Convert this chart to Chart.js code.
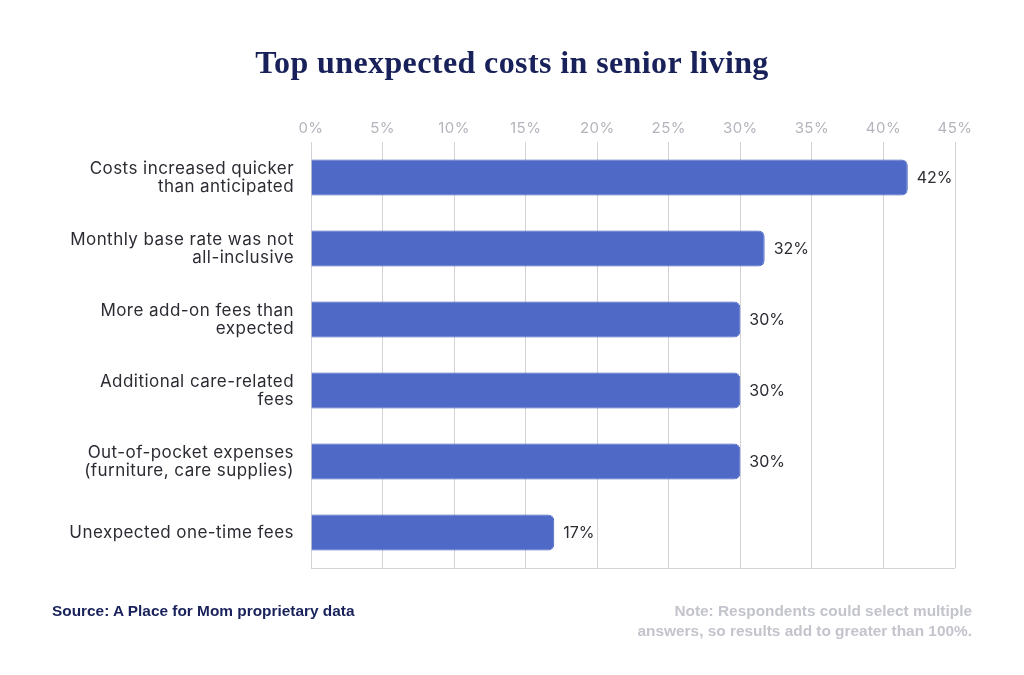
<!DOCTYPE html>
<html>
<head>
<meta charset="utf-8">
<script src="https://cdn.jsdelivr.net/npm/chart.js@4.4.1/dist/chart.umd.min.js"></script>
<style>
  html, body { margin: 0; padding: 0; background: #ffffff; }
  #wrap { position: relative; width: 1024px; height: 675px; overflow: hidden; }
  #title { position: absolute; left: 0; width: 1024px; top: 44px; text-align: center;
    font-family: "Liberation Serif", "DejaVu Serif", serif; font-weight: bold; font-size: 32px; letter-spacing: 0.4px; color: #18215a; }
  #source { position: absolute; left: 52px; top: 602px; font-family: "Liberation Sans", Arial, sans-serif;
    font-weight: bold; font-size: 15.4px; color: #18215a; }
  #note { position: absolute; right: 52px; top: 601px; text-align: right; font-family: "Liberation Sans", Arial, sans-serif;
    font-weight: bold; font-size: 15.4px; line-height: 20px; color: #c3c4cc; }
  canvas { position: absolute; left: 0; top: 0; }
</style>
</head>
<body>
<div id="wrap">
  <canvas id="c" width="1024" height="675"></canvas>
  <div id="title">Top unexpected costs in senior living</div>
  <div id="source">Source: A Place for Mom proprietary data</div>
  <div id="note">Note: Respondents could select multiple<br>answers, so results add to greater than 100%.</div>
</div>
<script>
const categories = [
  ["Costs increased quicker", "than anticipated"],
  ["Monthly base rate was not", "all-inclusive"],
  ["More add-on fees than", "expected"],
  ["Additional care-related", "fees"],
  ["Out-of-pocket expenses", "(furniture, care supplies)"],
  ["Unexpected one-time fees"]
];
const values = [41.7, 31.7, 30, 30, 30, 17];
const valueLabels = ["42%", "32%", "30%", "30%", "30%", "17%"];
const tickStep = 5;
const axisMax = 45;

const FONT = "Inter, 'Open Sans', sans-serif";

const spacingPlugin = {
  id: 'spacing',
  beforeLayout(chart) { chart.ctx.letterSpacing = '0.45px'; },
  beforeDraw(chart) { chart.ctx.letterSpacing = '0.45px'; }
};

const valueLabelPlugin = {
  id: 'valueLabels',
  afterDatasetsDraw(chart) {
    const ctx = chart.ctx;
    const meta = chart.getDatasetMeta(0);
    ctx.save();
    ctx.letterSpacing = '0px';
    ctx.font = "16px " + FONT;
    ctx.fillStyle = "#2b2b33";
    ctx.textAlign = "left";
    ctx.textBaseline = "middle";
    meta.data.forEach((bar, i) => {
      ctx.fillText(valueLabels[i], bar.x + 9, bar.y + 1);
    });
    ctx.restore();
  }
};

const bottomLinePlugin = {
  id: 'bottomLine',
  afterDraw(chart) {
    const a = chart.chartArea;
    const ctx = chart.ctx;
    ctx.save();
    ctx.strokeStyle = "#d2d2d8";
    ctx.lineWidth = 1;
    ctx.beginPath();
    ctx.moveTo(a.left, Math.round(a.bottom) + 0.5);
    ctx.lineTo(a.right, Math.round(a.bottom) + 0.5);
    ctx.stroke();
    ctx.restore();
  }
};

new Chart(document.getElementById('c'), {
  type: 'bar',
  data: {
    labels: categories,
    datasets: [{
      data: values,
      backgroundColor: "#4f6ac6",
      borderColor: "#3f5bc0",
      borderWidth: 1,
      borderSkipped: 'start',
      borderRadius: { topLeft: 0, bottomLeft: 0, topRight: 6, bottomRight: 6 },
      barPercentage: 0.51,
      categoryPercentage: 1.0
    }]
  },
  options: {
    indexAxis: 'y',
    responsive: false,
    animation: false,
    devicePixelRatio: 1,
    layout: { padding: { left: 0, right: 69, top: 100, bottom: 107 } },
    plugins: { legend: { display: false }, tooltip: { enabled: false } },
    scales: {
      x: {
        position: 'top',
        min: 0,
        max: axisMax,
        afterFit(scale) { scale.height = 42; },
        ticks: {
          stepSize: tickStep,
          padding: 5,
          color: "#b3b4bc",
          font: { family: FONT, size: 15 },
          callback: v => v + "%"
        },
        grid: { color: "#d2d2d8", drawTicks: false, lineWidth: 1 },
        border: { display: false }
      },
      y: {
        afterFit(scale) { scale.width = 311; },
        ticks: {
          padding: 17,
          color: "#2b2b33",
          font: { family: FONT, size: 17, lineHeight: 1.06 }
        },
        grid: { display: false, drawTicks: false },
        border: { display: true, color: "#d2d2d8" }
      }
    }
  },
  plugins: [spacingPlugin, valueLabelPlugin, bottomLinePlugin]
});
</script>
</body>
</html>
